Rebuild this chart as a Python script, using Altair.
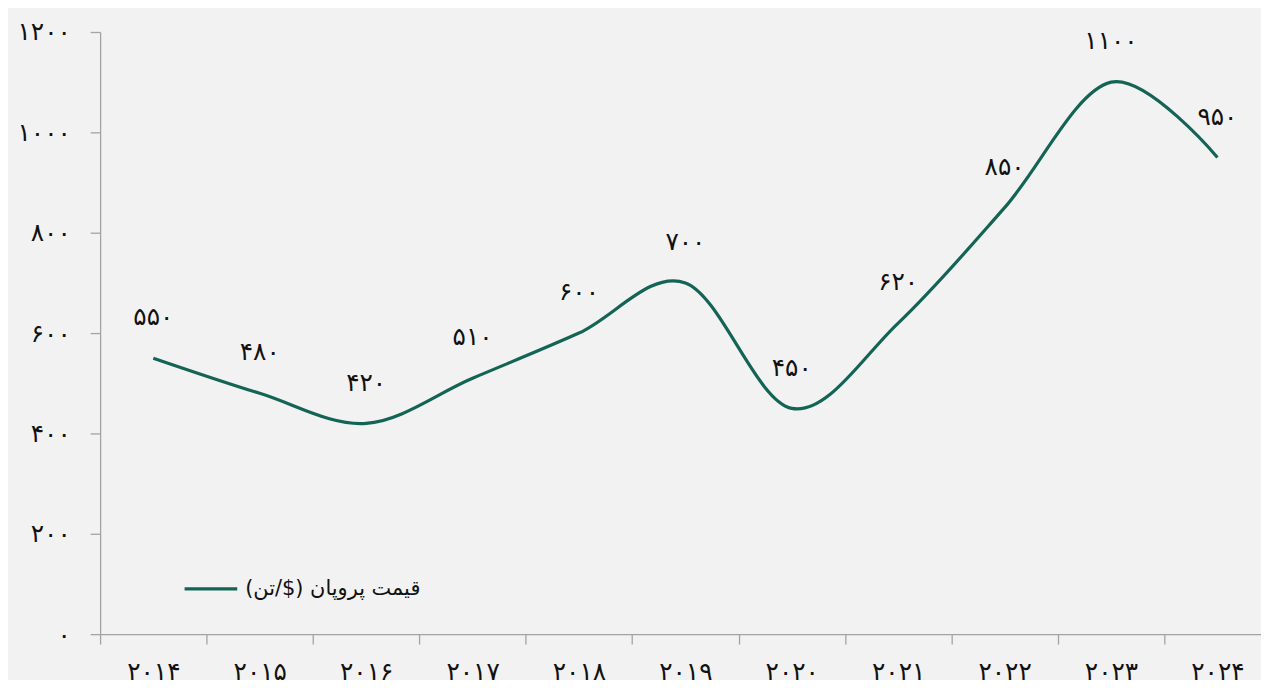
import altair as alt
import pandas as pd

years = ['۲۰۱۴', '۲۰۱۵', '۲۰۱۶', '۲۰۱۷', '۲۰۱۸', '۲۰۱۹', '۲۰۲۰', '۲۰۲۱', '۲۰۲۲', '۲۰۲۳', '۲۰۲۴']
prices = [550, 480, 420, 510, 600, 700, 450, 620, 850, 1100, 950]
price_labels = ['۵۵۰', '۴۸۰', '۴۲۰', '۵۱۰', '۶۰۰', '۷۰۰', '۴۵۰', '۶۲۰', '۸۵۰', '۱۱۰۰', '۹۵۰']
y_ticks = [0, 200, 400, 600, 800, 1000, 1200]
y_tick_labels = ['۰', '۲۰۰', '۴۰۰', '۶۰۰', '۸۰۰', '۱۰۰۰', '۱۲۰۰']
series_name = '\u200fقیمت پروپان ($/تن)\u200f'

df = pd.DataFrame({
    'year': years,
    'price': prices,
    'label': price_labels,
    'series': [series_name] * len(years),
})

expr = "''"
for v, lab in zip(reversed(y_ticks), reversed(y_tick_labels)):
    expr = f"datum.value == {v} ? '{lab}' : ({expr})"

FONT = 'DejaVu Sans'
LINE = '#136454'
AXIS = '#a3a3a3'
TXT = '#111111'

x_enc = alt.X(
    'year:N', sort=years, bandPosition=0.5,
    scale=alt.Scale(type='band', domain=years, paddingInner=0, paddingOuter=0),
    axis=alt.Axis(title=None, tickBand='extent', labelAngle=0, labelFontSize=25,
                  labelFont=FONT, labelColor=TXT, labelPadding=16,
                  tickSize=10, tickColor=AXIS, domainColor=AXIS, domainWidth=1.3,
                  tickWidth=1.3, grid=False),
)
y_enc = alt.Y(
    'price:Q',
    scale=alt.Scale(domain=[0, 1200], nice=False, zero=True),
    axis=alt.Axis(title=None, values=y_ticks, labelExpr=expr, labelFontSize=25,
                  labelFont=FONT, labelColor=TXT, labelPadding=20,
                  tickSize=10, tickColor=AXIS, domainColor=AXIS, domainWidth=1.3,
                  tickWidth=1.3, grid=False),
)

line = alt.Chart(df).mark_line(interpolate='cardinal', strokeWidth=3.2).encode(
    x=x_enc, y=y_enc,
    color=alt.Color('series:N', scale=alt.Scale(range=[LINE]),
                    legend=alt.Legend(title=None, orient='none', legendX=83, legendY=532,
                                      symbolType='stroke', symbolSize=2809,
                                      symbolStrokeWidth=3.2, labelFontSize=21,
                                      labelFont=FONT, labelColor=TXT, labelLimit=500,
                                      labelOffset=6, padding=0)),
)

text = alt.Chart(df).mark_text(dy=-41, fontSize=25, font=FONT, color=TXT,
                               baseline='middle', align='center').encode(
    x=x_enc, y=y_enc, text='label:N',
)

chart = alt.layer(line, text).properties(
    width=1178, height=606,
    autosize=alt.AutoSizeParams(type='none'),
    padding={'left': 92.7, 'top': 22, 'right': -9.7, 'bottom': 44},
    background='#f2f2f2',
).configure_view(stroke=None)

chart.save('out.html', embed_options={'renderer': 'svg', 'actions': False})
